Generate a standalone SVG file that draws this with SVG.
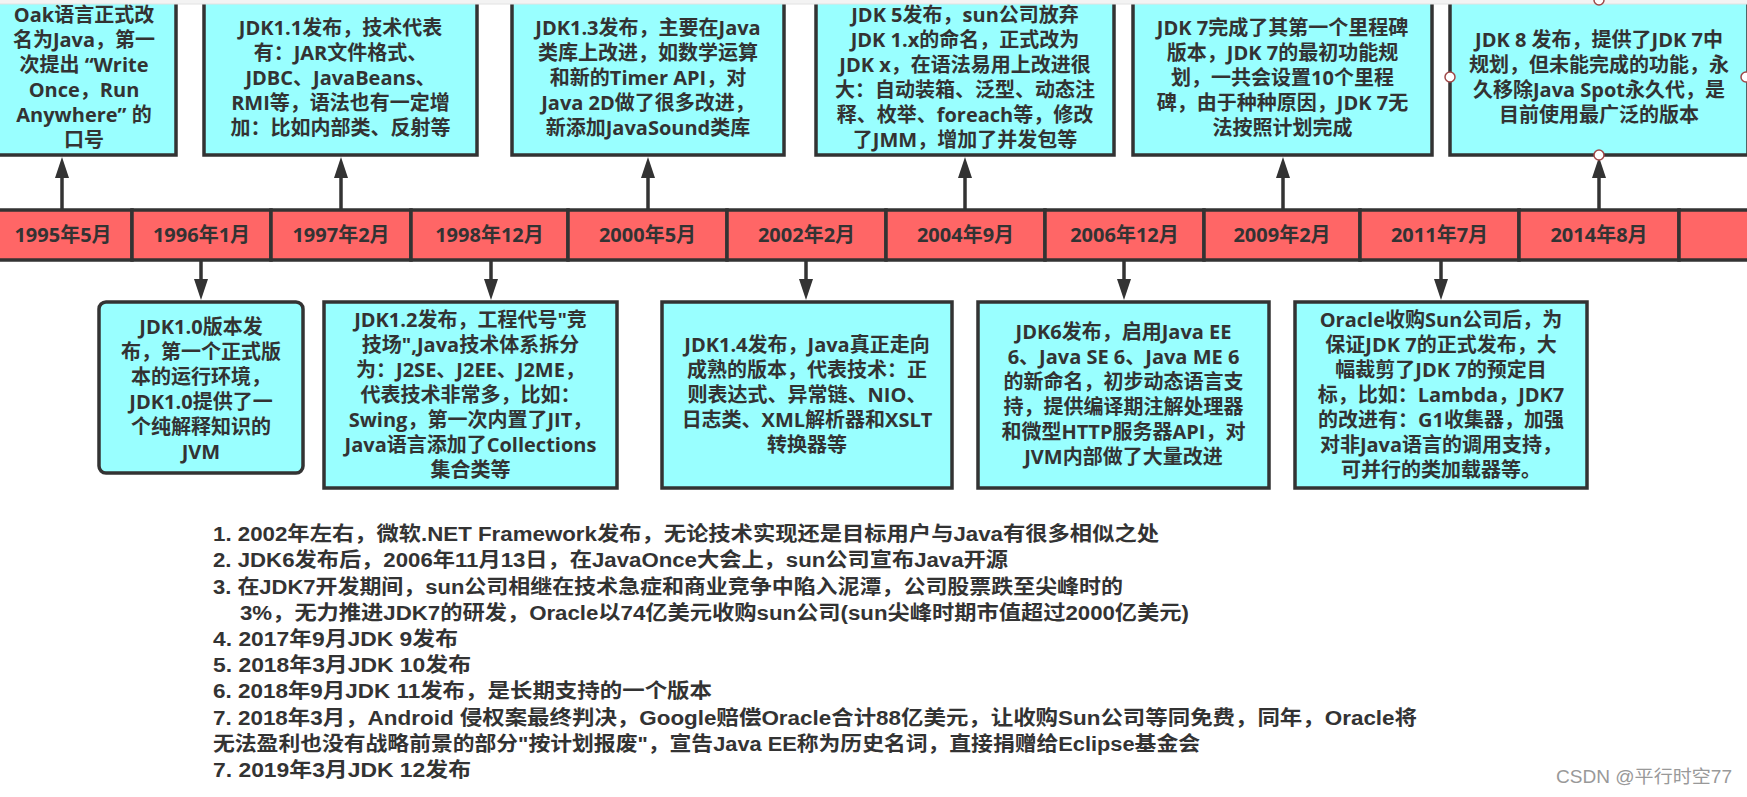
<svg xmlns="http://www.w3.org/2000/svg" width="1747" height="797" viewBox="0 0 1747 797">
<style>
.box{fill:#99FFFF;stroke:#333;stroke-width:3.5}
.cell{fill:#FF6666;stroke:#333;stroke-width:3.5}
.t{font-family:"Open Sans","Noto Sans CJK SC",sans-serif;font-weight:bold;font-size:20px;fill:#333;text-anchor:middle}
.lst{font-family:"Liberation Sans","Noto Sans CJK SC",sans-serif;font-weight:bold;font-size:20px;fill:#333}
.conn{stroke:#333;stroke-width:3.5;fill:none;marker-end:url(#ah)}
.hdl{fill:#fff;stroke:#a04848;stroke-width:1.5}
</style>
<defs>
<marker id="ah" markerUnits="userSpaceOnUse" markerWidth="24" markerHeight="18" viewBox="0 -9 24 18" refX="0" refY="0" orient="auto">
<path d="M0,-7 L21,0 L0,7 z" fill="#333"/>
</marker>
</defs>
<rect x="0" y="0" width="1747" height="797" fill="#fff"/>

<g id="connectors">
<line class="conn" x1="62" y1="209" x2="62" y2="178"/>
<line class="conn" x1="341" y1="209" x2="341" y2="178"/>
<line class="conn" x1="648" y1="209" x2="648" y2="178"/>
<line class="conn" x1="965" y1="209" x2="965" y2="178"/>
<line class="conn" x1="1283" y1="209" x2="1283" y2="178"/>
<line class="conn" x1="1599" y1="209" x2="1599" y2="178"/>
<line class="conn" x1="201" y1="261" x2="201" y2="279"/>
<line class="conn" x1="491" y1="261" x2="491" y2="279"/>
<line class="conn" x1="806" y1="261" x2="806" y2="279"/>
<line class="conn" x1="1124" y1="261" x2="1124" y2="279"/>
<line class="conn" x1="1441" y1="261" x2="1441" y2="279"/>
</g>

<g id="timeline">
<rect class="cell" x="-10" y="210" width="142" height="50"/>
<rect class="cell" x="132" y="210" width="139" height="50"/>
<rect class="cell" x="271" y="210" width="140" height="50"/>
<rect class="cell" x="411" y="210" width="157" height="50"/>
<rect class="cell" x="568" y="210" width="159" height="50"/>
<rect class="cell" x="727" y="210" width="159" height="50"/>
<rect class="cell" x="886" y="210" width="159" height="50"/>
<rect class="cell" x="1045" y="210" width="159" height="50"/>
<rect class="cell" x="1204" y="210" width="156" height="50"/>
<rect class="cell" x="1360" y="210" width="159" height="50"/>
<rect class="cell" x="1519" y="210" width="160" height="50"/>
<rect class="cell" x="1679" y="210" width="160" height="50"/>
<text class="t" x="63" y="242">1995年5月</text>
<text class="t" x="201.5" y="242">1996年1月</text>
<text class="t" x="341" y="242">1997年2月</text>
<text class="t" x="489.5" y="242">1998年12月</text>
<text class="t" x="647.5" y="242">2000年5月</text>
<text class="t" x="806.5" y="242">2002年2月</text>
<text class="t" x="965.5" y="242">2004年9月</text>
<text class="t" x="1124.5" y="242">2006年12月</text>
<text class="t" x="1282" y="242">2009年2月</text>
<text class="t" x="1439.5" y="242">2011年7月</text>
<text class="t" x="1599" y="242">2014年8月</text>
</g>

<g id="n1995">
<rect class="box" x="-8" y="-2" width="184" height="157"/>
<text class="t" x="84" y="22">Oak语言正式改</text>
<text class="t" x="84" y="47">名为Java，第一</text>
<text class="t" x="84" y="72">次提出 “Write</text>
<text class="t" x="84" y="97">Once，Run</text>
<text class="t" x="84" y="122">Anywhere” 的</text>
<text class="t" x="84" y="147">口号</text>
</g>

<g id="n1997">
<rect class="box" x="204" y="-2" width="273" height="157"/>
<text class="t" x="340.5" y="35">JDK1.1发布，技术代表</text>
<text class="t" x="340.5" y="60">有：JAR文件格式、</text>
<text class="t" x="340.5" y="85">JDBC、JavaBeans、</text>
<text class="t" x="340.5" y="110">RMI等，语法也有一定增</text>
<text class="t" x="340.5" y="135">加：比如内部类、反射等</text>
</g>

<g id="n2000">
<rect class="box" x="512" y="-2" width="272" height="157"/>
<text class="t" x="648" y="35">JDK1.3发布，主要在Java</text>
<text class="t" x="648" y="60">类库上改进，如数学运算</text>
<text class="t" x="648" y="85">和新的Timer API，对</text>
<text class="t" x="648" y="110">Java 2D做了很多改进，</text>
<text class="t" x="648" y="135">新添加JavaSound类库</text>
</g>

<g id="n2004">
<rect class="box" x="816" y="-2" width="298" height="157"/>
<text class="t" x="965" y="22">JDK 5发布，sun公司放弃</text>
<text class="t" x="965" y="47">JDK 1.x的命名，正式改为</text>
<text class="t" x="965" y="72">JDK x，在语法易用上改进很</text>
<text class="t" x="965" y="97">大：自动装箱、泛型、动态注</text>
<text class="t" x="965" y="122">释、枚举、foreach等，修改</text>
<text class="t" x="965" y="147">了JMM，增加了并发包等</text>
</g>

<g id="n2009">
<rect class="box" x="1133" y="-2" width="299" height="157"/>
<text class="t" x="1282.5" y="35">JDK 7完成了其第一个里程碑</text>
<text class="t" x="1282.5" y="60">版本，JDK 7的最初功能规</text>
<text class="t" x="1282.5" y="85">划，一共会设置10个里程</text>
<text class="t" x="1282.5" y="110">碑，由于种种原因，JDK 7无</text>
<text class="t" x="1282.5" y="135">法按照计划完成</text>
</g>

<g id="n2014">
<rect class="box" x="1450" y="-2" width="298" height="157"/>
<text class="t" x="1599" y="47">JDK 8 发布，提供了JDK 7中</text>
<text class="t" x="1599" y="72">规划，但未能完成的功能，永</text>
<text class="t" x="1599" y="97">久移除Java Spot永久代，是</text>
<text class="t" x="1599" y="122">目前使用最广泛的版本</text>
<circle class="hdl" cx="1450" cy="77" r="5"/>
<circle class="hdl" cx="1746" cy="77" r="5"/>
<circle class="hdl" cx="1599" cy="155" r="5"/>
</g>

<g id="n1996">
<rect class="box" x="99" y="302" width="204" height="171" rx="7" ry="7"/>
<text class="t" x="201" y="334">JDK1.0版本发</text>
<text class="t" x="201" y="359">布，第一个正式版</text>
<text class="t" x="201" y="384">本的运行环境，</text>
<text class="t" x="201" y="409">JDK1.0提供了一</text>
<text class="t" x="201" y="434">个纯解释知识的</text>
<text class="t" x="201" y="459">JVM</text>
</g>

<g id="n1998">
<rect class="box" x="324" y="302" width="293" height="186"/>
<text class="t" x="470.5" y="327">JDK1.2发布，工程代号"竞</text>
<text class="t" x="470.5" y="352">技场",Java技术体系拆分</text>
<text class="t" x="470.5" y="377">为：J2SE、J2EE、J2ME，</text>
<text class="t" x="470.5" y="402">代表技术非常多，比如：</text>
<text class="t" x="470.5" y="427">Swing，第一次内置了JIT，</text>
<text class="t" x="470.5" y="452">Java语言添加了Collections</text>
<text class="t" x="470.5" y="477">集合类等</text>
</g>

<g id="n2002">
<rect class="box" x="662" y="302" width="290" height="186"/>
<text class="t" x="807" y="352">JDK1.4发布，Java真正走向</text>
<text class="t" x="807" y="377">成熟的版本，代表技术：正</text>
<text class="t" x="807" y="402">则表达式、异常链、NIO、</text>
<text class="t" x="807" y="427">日志类、XML解析器和XSLT</text>
<text class="t" x="807" y="452">转换器等</text>
</g>

<g id="n2006">
<rect class="box" x="978" y="302" width="291" height="186"/>
<text class="t" x="1123.5" y="339">JDK6发布，启用Java EE</text>
<text class="t" x="1123.5" y="364">6、Java SE 6、Java ME 6</text>
<text class="t" x="1123.5" y="389">的新命名，初步动态语言支</text>
<text class="t" x="1123.5" y="414">持，提供编译期注解处理器</text>
<text class="t" x="1123.5" y="439">和微型HTTP服务器API，对</text>
<text class="t" x="1123.5" y="464">JVM内部做了大量改进</text>
</g>

<g id="n2011">
<rect class="box" x="1295" y="302" width="292" height="186"/>
<text class="t" x="1441" y="327">Oracle收购Sun公司后，为</text>
<text class="t" x="1441" y="352">保证JDK 7的正式发布，大</text>
<text class="t" x="1441" y="377">幅裁剪了JDK 7的预定目</text>
<text class="t" x="1441" y="402">标，比如：Lambda，JDK7</text>
<text class="t" x="1441" y="427">的改进有：G1收集器，加强</text>
<text class="t" x="1441" y="452">对非Java语言的调用支持，</text>
<text class="t" x="1441" y="477">可并行的类加载器等。</text>
</g>

<rect x="0" y="0" width="1747" height="4" fill="#f3f3f3"/>
<line x1="0" y1="4" x2="1747" y2="4" stroke="#e2e2e2" stroke-width="1"/>
<circle class="hdl" cx="1599" cy="0" r="5"/>

<g id="notes">
<text class="lst" x="213" y="541" textLength="946" lengthAdjust="spacingAndGlyphs">1. 2002年左右，微软.NET Framework发布，无论技术实现还是目标用户与Java有很多相似之处</text>
<text class="lst" x="213" y="567" textLength="795" lengthAdjust="spacingAndGlyphs">2. JDK6发布后，2006年11月13日，在JavaOnce大会上，sun公司宣布Java开源</text>
<text class="lst" x="213" y="593.5" textLength="910" lengthAdjust="spacingAndGlyphs">3. 在JDK7开发期间，sun公司相继在技术急症和商业竞争中陷入泥潭，公司股票跌至尖峰时的</text>
<text class="lst" x="240" y="619.7" textLength="949" lengthAdjust="spacingAndGlyphs">3%，无力推进JDK7的研发，Oracle以74亿美元收购sun公司(sun尖峰时期市值超过2000亿美元)</text>
<text class="lst" x="213" y="646" textLength="245" lengthAdjust="spacingAndGlyphs">4. 2017年9月JDK 9发布</text>
<text class="lst" x="213" y="672" textLength="258" lengthAdjust="spacingAndGlyphs">5. 2018年3月JDK 10发布</text>
<text class="lst" x="213" y="698" textLength="499" lengthAdjust="spacingAndGlyphs">6. 2018年9月JDK 11发布，是长期支持的一个版本</text>
<text class="lst" x="213" y="724.5" textLength="1204" lengthAdjust="spacingAndGlyphs">7. 2018年3月，Android 侵权案最终判决，Google赔偿Oracle合计88亿美元，让收购Sun公司等同免费，同年，Oracle将</text>
<text class="lst" x="213" y="750.7" textLength="987" lengthAdjust="spacingAndGlyphs">无法盈利也没有战略前景的部分"按计划报废"，宣告Java EE称为历史名词，直接捐赠给Eclipse基金会</text>
<text class="lst" x="213" y="777" textLength="258" lengthAdjust="spacingAndGlyphs">7. 2019年3月JDK 12发布</text>
</g>

<text x="1556" y="783" textLength="176" lengthAdjust="spacingAndGlyphs" style="font-family:'Liberation Sans','Noto Sans CJK SC',sans-serif;font-size:18px;fill:#999">CSDN @平行时空77</text>
</svg>
